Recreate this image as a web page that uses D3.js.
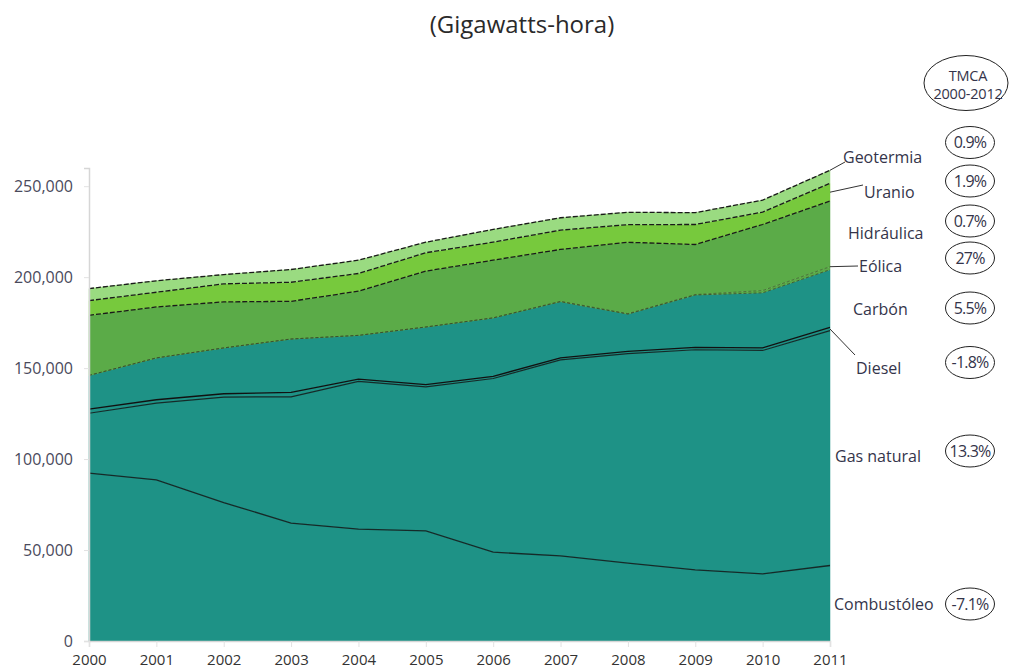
<!DOCTYPE html>
<html>
<head>
<meta charset="utf-8">
<script src="https://cdn.jsdelivr.net/npm/d3@7"></script>
<style>
  html, body { margin: 0; padding: 0; background: #fff; }
  svg { display: block; }
  text { font-family: "Open Sans", "DejaVu Sans", sans-serif; }
</style>
</head>
<body>
<svg id="chart" width="1009" height="670"></svg>
<script>
// ---- Data (GWh) ----
const years = [2000, 2001, 2002, 2003, 2004, 2005, 2006, 2007, 2008, 2009, 2010, 2011];
const combustoleo = [92300, 88600, 76100, 64800, 61500, 60500, 48800, 46800, 42800, 39100, 36900, 41500];
const gasNatural  = [32900, 42200, 58000, 69400, 81200, 79200, 95500, 107700, 115200, 121000, 122800, 129100];
const diesel      = [2300, 1800, 1800, 2500, 1300, 1200, 1200, 1100, 1200, 1300, 1400, 1800];
const carbon      = [18500, 23000, 25200, 29300, 24000, 31700, 32100, 30900, 20500, 28800, 30300, 31700];
const eolica      = [10, 10, 10, 10, 10, 20, 50, 250, 260, 250, 1240, 1650];
const hidraulica  = [33000, 28000, 25300, 20700, 24300, 30700, 31700, 28500, 39200, 27500, 36300, 36100];
const uranio      = [8100, 8100, 9900, 10500, 9700, 10100, 9900, 10600, 9700, 11000, 6800, 9700];
const geotermia   = [6600, 6300, 5100, 7000, 7300, 5800, 7000, 6800, 6800, 6500, 6600, 7200];

const seriesNames = ["Combustóleo", "Gas natural", "Diesel", "Carbón", "Eólica", "Hidráulica", "Uranio", "Geotermia"];
const seriesValues = [combustoleo, gasNatural, diesel, carbon, eolica, hidraulica, uranio, geotermia];
const tmca = ["-7.1%", "13.3%", "-1.8%", "5.5%", "27%", "0.7%", "1.9%", "0.9%"];
const yTicks = [0, 50000, 100000, 150000, 200000, 250000];
const title = "(Gigawatts-hora)";
const tmcaTitle = ["TMCA", "2000-2012"];

// ---- Layout ----
const svg = d3.select("#chart");
const x = d3.scaleLinear().domain([2000, 2011]).range([89, 830]);
const y = d3.scaleLinear().domain([0, 260000]).range([641, 168]);

const colors = {
  "Combustóleo": "#1e9286",
  "Gas natural": "#1e9286",
  "Diesel": "#1e9286",
  "Carbón": "#1e9286",
  "Eólica": "#5bab48",
  "Hidráulica": "#5bab48",
  "Uranio": "#77c93d",
  "Geotermia": "#9adb81"
};

const table = years.map((yr, i) => {
  const row = { year: yr };
  seriesNames.forEach((n, k) => row[n] = seriesValues[k][i]);
  return row;
});
const stacked = d3.stack().keys(seriesNames)(table);

const area = d3.area()
  .x(d => x(d.data.year))
  .y0(d => y(d[0]))
  .y1(d => y(d[1]));

svg.append("g").selectAll("path")
  .data(stacked)
  .join("path")
  .attr("d", area)
  .attr("fill", d => colors[d.key])
  .attr("stroke", d => colors[d.key])
  .attr("stroke-width", 0.5);

const topLine = d3.line().x(d => x(d.data.year)).y(d => y(d[1]));
const lineStyle = {
  "Combustóleo": { w: 1.3, dash: null, c: "#152a28" },
  "Gas natural": { w: 1.2, dash: null, c: "#152a28" },
  "Diesel": { w: 1.3, dash: null, c: "#111" },
  "Carbón": { w: 0.8, dash: "3,2", c: "#3a4a2a" },
  "Eólica": { w: 0.6, dash: "3,2", c: "#3a4a2a" },
  "Hidráulica": { w: 1.3, dash: "5,2", c: "#1a1a1a" },
  "Uranio": { w: 1.3, dash: "5,2", c: "#1a1a1a" },
  "Geotermia": { w: 1.3, dash: "5,2", c: "#1a1a1a" }
};
svg.append("g").selectAll("path")
  .data(stacked)
  .join("path")
  .attr("d", topLine)
  .attr("fill", "none")
  .attr("stroke", d => lineStyle[d.key].c)
  .attr("stroke-width", d => lineStyle[d.key].w)
  .attr("stroke-dasharray", d => lineStyle[d.key].dash);

// ---- Axes ----
const yAxis = d3.axisLeft(y).tickValues(yTicks).tickSize(5).tickPadding(11)
  .tickFormat(d3.format(","));
const gy = svg.append("g").attr("transform", "translate(89,0)").call(yAxis);
gy.select(".domain").attr("stroke", "#d6d6d6").attr("stroke-width", 1.5);
gy.selectAll(".tick line").attr("stroke", "#e2e2e2");
gy.selectAll(".tick text").attr("font-size", 16).attr("fill", "#4a4a5c")
  .attr("font-family", "'Open Sans', sans-serif").attr("dy", "0.34em");

const xAxis = d3.axisBottom(x).tickValues(years).tickSize(6).tickPadding(7)
  .tickFormat(d3.format("d"));
const gx = svg.append("g").attr("transform", "translate(0,641)").call(xAxis);
gx.select(".domain").attr("stroke", "#d6d6d6").attr("stroke-width", 1.5);
gx.selectAll(".tick line").attr("stroke", "#e2e2e2");
gx.selectAll(".tick text").attr("font-size", 15).attr("fill", "#333")
  .attr("font-family", "'Open Sans', sans-serif");

// ---- Title ----
svg.append("text").attr("x", 522).attr("y", 33).attr("text-anchor", "middle")
  .attr("font-size", 24).attr("fill", "#2a2a2a").text(title);

// ---- Right labels ----
const last = years.length - 1;
const layerOf = name => stacked.find(s => s.key === name)[last];
const labelPos = {
  "Geotermia":   { x: 843, y: 157, lead: [845, 162], at: "top" },
  "Uranio":      { x: 864, y: 192, lead: [863, 185], at: "mid" },
  "Hidráulica":  { x: 848, y: 233 },
  "Eólica":      { x: 859, y: 266, lead: [858, 266], at: "top" },
  "Carbón":      { x: 853, y: 309 },
  "Diesel":      { x: 856, y: 368, lead: [855, 355], at: "mid" },
  "Gas natural": { x: 835, y: 456 },
  "Combustóleo": { x: 834, y: 604 }
};
const ellipseY = {
  "Geotermia": 142.5, "Uranio": 181, "Hidráulica": 221, "Eólica": 258,
  "Carbón": 308, "Diesel": 362.5, "Gas natural": 451, "Combustóleo": 604
};

const lab = svg.append("g");
seriesNames.forEach((n, k) => {
  const p = labelPos[n];
  if (p.lead) {
    const L = layerOf(n);
    const yy = p.at === "top" ? y(L[1]) : y((L[0] + L[1]) / 2);
    lab.append("line").attr("x1", x(2011)).attr("y1", yy)
      .attr("x2", p.lead[0]).attr("y2", p.lead[1])
      .attr("stroke", "#333").attr("stroke-width", 1);
  }
  lab.append("text").attr("x", p.x).attr("y", p.y).attr("dy", "0.35em")
    .attr("font-size", 16).attr("fill", "#34344a").text(n);
  const ey = ellipseY[n];
  lab.append("ellipse").attr("cx", 970).attr("cy", ey).attr("rx", 24.5).attr("ry", 16)
    .attr("fill", "none").attr("stroke", "#222").attr("stroke-width", 1);
  lab.append("text").attr("x", 970).attr("y", ey).attr("dy", "0.35em")
    .attr("text-anchor", "middle").attr("font-size", 16).attr("fill", "#34344a")
    .attr("letter-spacing", "-0.8").text(tmca[k]);
});

// TMCA header
lab.append("ellipse").attr("cx", 966).attr("cy", 83).attr("rx", 42).attr("ry", 27.5)
  .attr("fill", "none").attr("stroke", "#222").attr("stroke-width", 1);
tmcaTitle.forEach((t, i) => {
  lab.append("text").attr("x", 968).attr("y", 76 + i * 18).attr("dy", "0.35em")
    .attr("text-anchor", "middle").attr("font-size", 14.5).attr("fill", "#34344a")
    .attr("letter-spacing", "-0.2").text(t);
});
</script>
</body>
</html>
